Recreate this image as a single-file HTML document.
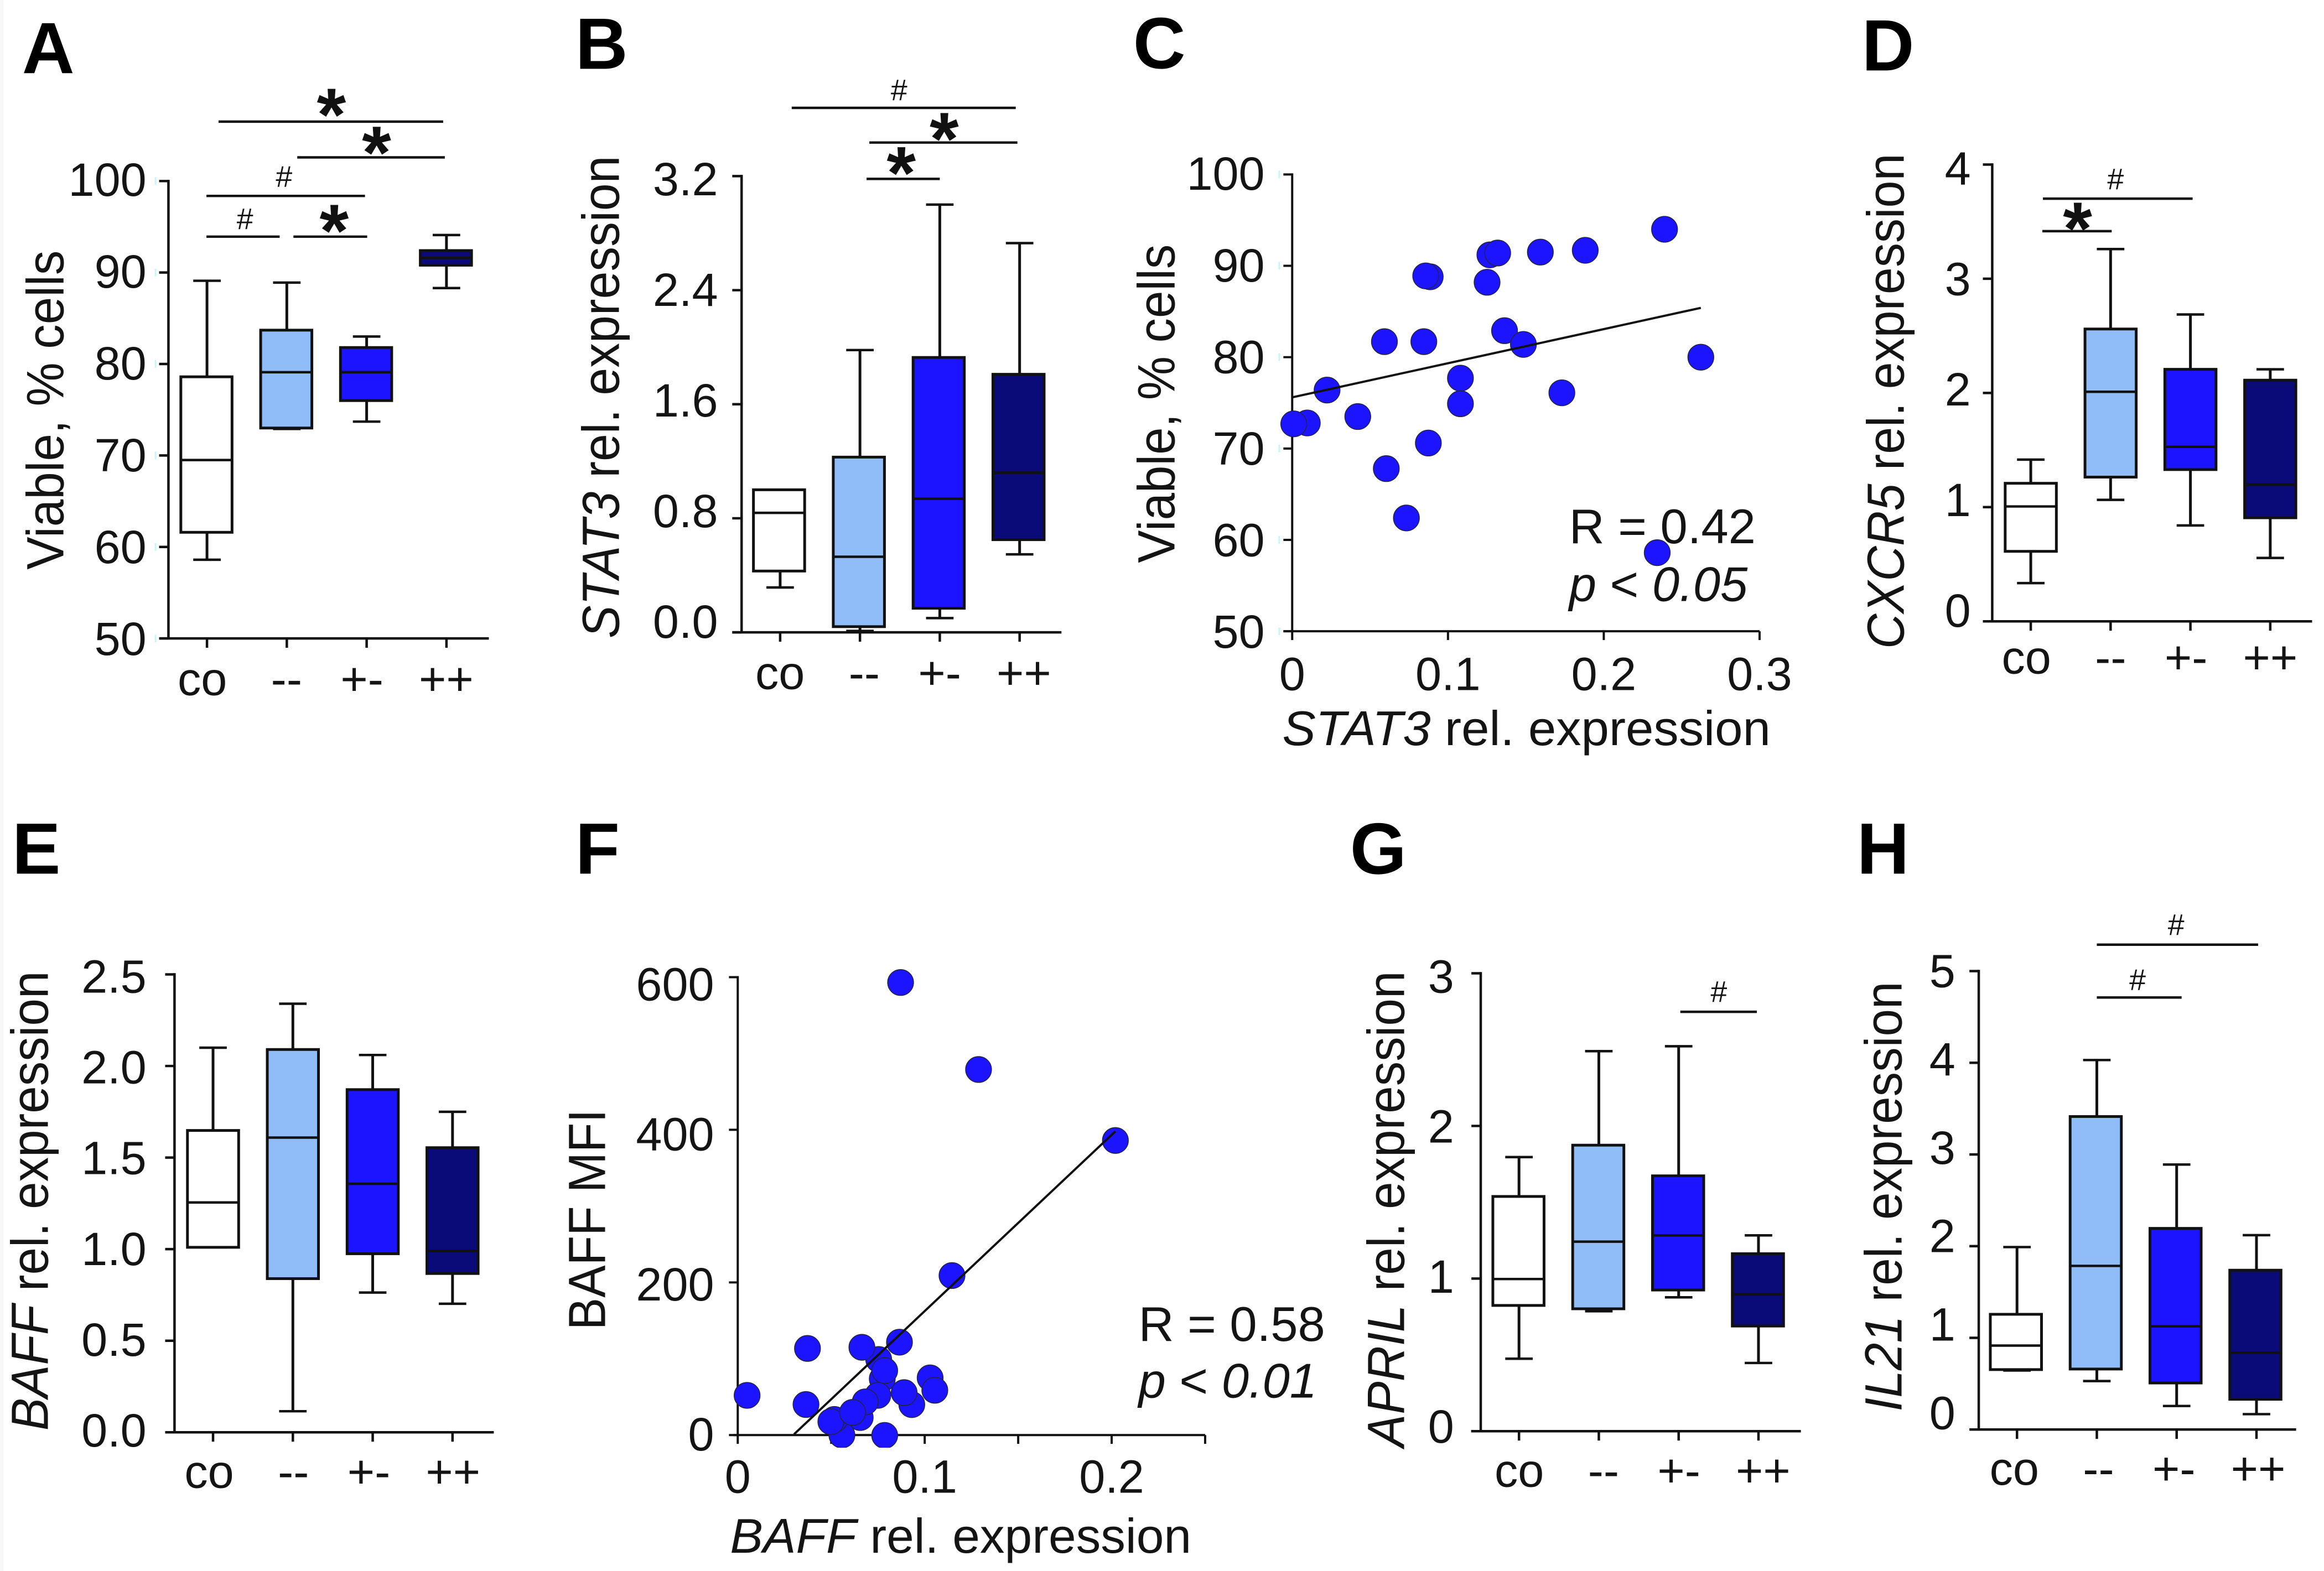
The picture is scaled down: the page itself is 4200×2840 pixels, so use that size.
<!DOCTYPE html>
<html lang="en">
<head>
<meta charset="utf-8">
<title>Viability and gene expression panels A-H</title>
<style>
html,body{margin:0;padding:0;background:#fff;}
svg{display:block;}
text{font-family:"Liberation Sans",sans-serif;fill:#141414;}
.letter{font-size:132px;font-weight:bold;fill:#000;}
.title{font-size:89px;}
.ytitle{font-size:95px;}
.tick{font-size:85px;}
.cat{font-size:85px;text-anchor:middle;}
.anno{font-size:89px;}
.star{font-size:136px;font-weight:bold;text-anchor:middle;fill:#111;}
.hash{font-size:54px;text-anchor:middle;}
.it{font-style:italic;}
.sig{stroke:#111;stroke-width:4.5;}
</style>
</head>
<body>
<svg id="figure" xmlns="http://www.w3.org/2000/svg" width="4200" height="2840" viewBox="0 0 4200 2840">
<defs>
<clipPath id="f-point-clip"><rect x="1000" y="1700" width="1400" height="923"/></clipPath>
</defs>
<rect x="0" y="0" width="4200" height="2840" fill="#fff"/>
<rect x="0" y="0" width="6" height="2840" fill="#f7f7f7"/>

<g id="panel-a" transform="matrix(0.9949 0 0 0.9949 0 0)">
<text class="letter" x="40" y="133">A</text>
<text class="title ytitle" transform="translate(115,1035) rotate(-90)" textLength="580" lengthAdjust="spacingAndGlyphs">Viable, % cells</text>
<line class="sig" x1="397" y1="221" x2="805" y2="221"/>
<text class="star" x="602" y="255">*</text>
<line class="sig" x1="540" y1="286" x2="808" y2="286"/>
<text class="star" x="684" y="324">*</text>
<line class="sig" x1="375" y1="356" x2="663" y2="356"/>
<text class="hash" x="516" y="339">#</text>
<line class="sig" x1="375" y1="430" x2="508" y2="430"/>
<text class="hash" x="445" y="416">#</text>
<line class="sig" x1="533" y1="430" x2="667" y2="430"/>
<text class="star" x="607" y="466">*</text>
</g>

<g id="panel-b" transform="matrix(0.9949 0 0 0.9949 5.1 0)">
<text class="letter" x="1040" y="125">B</text>
<text class="title ytitle" transform="translate(1119,1160) rotate(-90)" textLength="877" lengthAdjust="spacingAndGlyphs"><tspan class="it">STAT3</tspan> rel. expression</text>
<line class="sig" x1="1433" y1="196" x2="1840" y2="196"/>
<text class="hash" x="1628" y="182">#</text>
<line class="sig" x1="1574" y1="259" x2="1843" y2="259"/>
<text class="star" x="1710" y="299">*</text>
<line class="sig" x1="1569" y1="325" x2="1702" y2="325"/>
<text class="star" x="1632" y="361">*</text>
</g>

<g id="panel-c" transform="matrix(0.9949 0 0 0.9949 10.2 0)">
<text class="letter" x="2048" y="124">C</text>
<text class="title ytitle" transform="translate(2123,1023) rotate(-90)" textLength="579" lengthAdjust="spacingAndGlyphs">Viable, % cells</text>
<text class="title" x="2319" y="1354" textLength="887" lengthAdjust="spacingAndGlyphs"><tspan class="it">STAT3</tspan> rel. expression</text>
<text class="anno" x="2840" y="987">R = 0.42</text>
<text class="anno" x="2840" y="1092"><tspan class="it">p</tspan> &lt; <tspan class="it">0.05</tspan></text>
</g>

<g id="panel-d" transform="matrix(0.9949 0 0 0.9949 16.8 0)">
<text class="letter" x="3365" y="128">D</text>
<text class="title ytitle" transform="translate(3441,1179) rotate(-90)" textLength="900" lengthAdjust="spacingAndGlyphs"><tspan class="it">CXCR5</tspan> rel. expression</text>
<line class="sig" x1="3694" y1="361" x2="3966" y2="361"/>
<text class="hash" x="3826" y="344">#</text>
<line class="sig" x1="3693" y1="420" x2="3819" y2="420"/>
<text class="star" x="3757" y="462">*</text>
</g>

<g id="panel-e" transform="matrix(0.9949 0 0 0.9949 0 7.5)">
<text class="letter" x="22" y="1580">E</text>
<text class="title ytitle" transform="translate(87,2592) rotate(-90)" textLength="835" lengthAdjust="spacingAndGlyphs"><tspan class="it">BAFF</tspan> rel. expression</text>
</g>

<g id="panel-f" transform="matrix(0.9949 0 0 0.9949 5.1 7.5)">
<text class="letter" x="1040" y="1580">F</text>
<text class="title ytitle" transform="translate(1094,2409) rotate(-90)" textLength="401" lengthAdjust="spacingAndGlyphs">BAFF MFI</text>
<text class="title" x="1321" y="2814" textLength="838" lengthAdjust="spacingAndGlyphs"><tspan class="it">BAFF</tspan> rel. expression</text>
<text class="anno" x="2063" y="2429">R = 0.58</text>
<text class="anno" x="2063" y="2532"><tspan class="it">p</tspan> &lt; <tspan class="it">0.01</tspan></text>
</g>

<g id="panel-g" transform="matrix(0.9949 0 0 0.9949 12.2 7.5)">
<text class="letter" x="2440" y="1580">G</text>
<text class="title ytitle" transform="translate(2538,2622) rotate(-90)" textLength="865" lengthAdjust="spacingAndGlyphs"><tspan class="it">APRIL</tspan> rel. expression</text>
<line class="sig" x1="3040" y1="1831" x2="3179" y2="1831"/>
<text class="hash" x="3110" y="1813">#</text>
</g>

<g id="panel-h" transform="matrix(0.9949 0 0 0.9949 16.8 7.5)">
<text class="letter" x="3356" y="1580">H</text>
<text class="title ytitle" transform="translate(3437,2557) rotate(-90)" textLength="781" lengthAdjust="spacingAndGlyphs"><tspan class="it">IL21</tspan> rel. expression</text>
<line class="sig" x1="3792" y1="1709" x2="4085" y2="1709"/>
<text class="hash" x="3936" y="1691">#</text>
<line class="sig" x1="3792" y1="1805" x2="3946" y2="1805"/>
<text class="hash" x="3866" y="1791">#</text>
</g>
</svg>

<script>
// Shared categories and colours
const categories = ['co', '--', '+-', '++'];
const boxFills = ['#ffffff', '#90bcf8', '#1c14ff', '#0a0a78'];

// Panel A
const aTicks = [50, 60, 70, 80, 90, 100];
const aTickLabels = ['50', '60', '70', '80', '90', '100'];
const aLow = [58.6, 72.9, 73.7, 88.3];
const aQ1 = [61.6, 73.0, 76.0, 90.8];
const aMedian = [69.5, 79.1, 79.1, 91.6];
const aQ3 = [78.6, 83.7, 81.8, 92.4];
const aHigh = [89.1, 88.9, 83.0, 94.1];

// Panel B
const bTicks = [0, 0.8, 1.6, 2.4, 3.2];
const bTickLabels = ['0.0', '0.8', '1.6', '2.4', '3.2'];
const bLow = [0.315, 0.01, 0.10, 0.547];
const bQ1 = [0.43, 0.04, 0.169, 0.65];
const bMedian = [0.838, 0.53, 0.937, 1.12];
const bQ3 = [1.0, 1.229, 1.928, 1.81];
const bHigh = [1.0, 1.98, 3.0, 2.73];

// Panel C
const cYTicks = [50, 60, 70, 80, 90, 100];
const cYTickLabels = ['50', '60', '70', '80', '90', '100'];
const cXTicks = [0, 0.1, 0.2, 0.3];
const cXTickLabels = ['0', '0.1', '0.2', '0.3'];
const cX = [0.0097, 0.001, 0.0224, 0.0421, 0.0592, 0.0604, 0.0733, 0.0845, 0.0874, 0.0886, 0.0857, 0.108, 0.108, 0.1251, 0.1269, 0.1319, 0.1363, 0.1484, 0.1731, 0.1593, 0.1881, 0.239, 0.2623, 0.2343];
const cY = [72.8, 72.7, 76.4, 73.5, 81.7, 67.8, 62.4, 81.7, 70.6, 88.8, 88.9, 77.7, 74.9, 88.2, 91.2, 91.4, 82.9, 81.4, 76.1, 91.5, 91.7, 94.0, 80.0, 58.6];
const cFitX = [0, 0.2623];
const cFitY = [75.6, 85.4];

// Panel D
const dTicks = [0, 1, 2, 3, 4];
const dTickLabels = ['0', '1', '2', '3', '4'];
const dLow = [0.335, 1.064, 0.84, 0.555];
const dQ1 = [0.613, 1.263, 1.329, 0.907];
const dMedian = [1.006, 2.01, 1.528, 1.197];
const dQ3 = [1.209, 2.56, 2.207, 2.112];
const dHigh = [1.416, 3.26, 2.687, 2.207];

// Panel E
const eTicks = [0, 0.5, 1, 1.5, 2, 2.5];
const eTickLabels = ['0.0', '0.5', '1.0', '1.5', '2.0', '2.5'];
const eLow = [1.01, 0.115, 0.763, 0.702];
const eQ1 = [1.01, 0.839, 0.975, 0.867];
const eMedian = [1.255, 1.609, 1.357, 0.99];
const eQ3 = [1.648, 2.09, 1.871, 1.554];
const eHigh = [2.1, 2.34, 2.06, 1.75];

// Panel F
const fYTicks = [0, 200, 400, 600];
const fYTickLabels = ['0', '200', '400', '600'];
const fXTicks = [0, 0.05, 0.1, 0.15, 0.2, 0.25];
const fXTickLabels = ['0', '', '0.1', '', '0.2', ''];
const fX = [0.005, 0.0365, 0.0373, 0.0754, 0.0664, 0.0773, 0.0786, 0.0871, 0.1288, 0.202, 0.1146, 0.0865, 0.0749, 0.0655, 0.0682, 0.0557, 0.0517, 0.0498, 0.0614, 0.0786, 0.0931, 0.089, 0.1029, 0.1054];
const fY = [52, 40, 113.5, 99, 115, 73.7, 84.5, 593, 479, 386, 209, 121.7, 52, 23, 43.5, 0, 20.5, 17.6, 29.7, -0.5, 39.9, 55.6, 74.9, 58.7];
const fFitX = [0.0301, 0.202];
const fFitY = [1, 398];

// Panel G
const gTicks = [0, 1, 2, 3];
const gTickLabels = ['0', '1', '2', '3'];
const gLow = [0.475, 0.786, 0.877, 0.447];
const gQ1 = [0.824, 0.802, 0.925, 0.689];
const gMedian = [0.997, 1.242, 1.283, 0.896];
const gQ3 = [1.538, 1.874, 1.673, 1.163];
const gHigh = [1.796, 2.49, 2.522, 1.283];

// Panel H
const hTicks = [0, 1, 2, 3, 4, 5];
const hTickLabels = ['0', '1', '2', '3', '4', '5'];
const hLow = [0.644, 0.529, 0.257, 0.168];
const hQ1 = [0.654, 0.66, 0.508, 0.33];
const hMedian = [0.916, 1.785, 1.126, 0.838];
const hQ3 = [1.257, 3.414, 2.194, 1.738];
const hHigh = [1.99, 4.03, 2.89, 2.12];

const SVG_NS = 'http://www.w3.org/2000/svg';

function shape(parent, tag, attrs) {
  const el = document.createElementNS(SVG_NS, tag);
  for (const k in attrs) el.setAttribute(k, attrs[k]);
  parent.appendChild(el);
  return el;
}
function linear(d0, d1, r0, r1) {
  return function (v) { return r0 + (v - d0) * (r1 - r0) / (d1 - d0); };
}
function drawLine(parent, x1, y1, x2, y2, width, name) {
  const el = shape(parent, 'line', { x1: x1, y1: y1, x2: x2, y2: y2, stroke: '#111', 'stroke-width': width });
  
  
  return el;
}
function drawLabel(parent, str, x, y, cls, anchor, name) {
  const el = shape(parent, 'text', { x: x, y: y, class: cls, 'text-anchor': anchor });
  el.textContent = str;
  
  
  return el;
}
function drawYAxis(parent, key, ticks, labels, c, width) {
  const y = linear(c.vMin, c.vMax, c.yBottom, c.yTop);
  const labelY = linear(c.vMin, c.vMax, c.labelBottom, c.labelTop);
  drawLine(parent, c.axisX, y(c.vMax) - width / 2, c.axisX, y(c.vMin), width, key + '-y-axis-line');
  ticks.forEach(function (t, i) {
    drawLine(parent, c.axisX - c.tickLen, y(t), c.axisX, y(t), width, key + '-y-tick-' + labels[i]);
    drawLabel(parent, labels[i], c.labelRight, labelY(t) + 30, 'tick', 'end', key + '-y-tick-label-' + labels[i]);
    if (c.cyanTicks) {
      const mark = shape(parent, 'rect', { x: c.axisX - 25, y: y(t) - 7, width: 3, height: 14, fill: '#c8f4fa' });
      
      
    }
  });
  return y;
}

function drawBoxPanel(key, low, q1, median, q3, high, ticks, labels, c) {
  const g = document.getElementById('panel-' + key);
  c.tickLen = 17;
  const y = drawYAxis(g, key, ticks, labels, c, 4.5);
  drawLine(g, c.axisStart, c.yBottom, c.axisEnd, c.yBottom, 4.5, key + '-x-axis-line');
  const tickX = linear(0, 1, c.tick0, c.tick0 + c.step);
  const boxX = linear(0, 1, c.box0, c.box0 + c.step);
  categories.forEach(function (cat, i) {
    const tx = tickX(i);
    const bx = boxX(i);
    drawLine(g, tx, c.yBottom, tx, c.yBottom + 17, 4.5, key + '-x-tick-' + i);
    drawLabel(g, cat, tx + c.labelShift + (i % 2 ? 4 : -4), c.catBaseline, 'cat', 'middle', key + '-category-label-' + i);
    drawLine(g, tx, y(high[i]), tx, y(low[i]), 5, key + '-whisker-' + i);
    drawLine(g, tx - 25, y(high[i]), tx + 25, y(high[i]), 4.5, key + '-whisker-cap-high-' + i);
    drawLine(g, tx - 25, y(low[i]), tx + 25, y(low[i]), 4.5, key + '-whisker-cap-low-' + i);
    const box = shape(g, 'rect', {
      x: bx - 46.5, y: y(q3[i]), width: 93, height: y(q1[i]) - y(q3[i]),
      fill: boxFills[i], stroke: '#111', 'stroke-width': 5
    });
    
    
    drawLine(g, bx - 46.5, y(median[i]), bx + 46.5, y(median[i]), 4.5, key + '-median-' + i);
  });
}

function drawScatterPanel(key, xs, ys, fitX, fitY, xTicks, xLabels, yTicks, yLabels, c) {
  const g = document.getElementById('panel-' + key);
  c.tickLen = 16;
  const y = drawYAxis(g, key, yTicks, yLabels, c, 4);
  const x = linear(c.xMin, c.xMax, c.axisX, c.xRight);
  drawLine(g, c.axisStart, c.yBottom, c.xRight, c.yBottom, 4, key + '-x-axis-line');
  xTicks.forEach(function (t, i) {
    drawLine(g, x(t), c.yBottom, x(t), c.yBottom + 16, 4, key + '-x-tick-' + i);
    if (xLabels[i]) {
      drawLabel(g, xLabels[i], x(t), c.xLabelBaseline, 'tick', 'middle', key + '-x-tick-label-' + i);
    }
  });
  const pts = shape(g, 'g', {});
  
  
  if (c.clip) pts.setAttribute('clip-path', c.clip);
  xs.forEach(function (xv, i) {
    const dot = shape(pts, 'circle', {
      cx: x(xv), cy: y(ys[i]), r: c.r, fill: '#1c14ff', stroke: '#23233a', 'stroke-width': 1.5
    });
    
    
  });
  drawLine(g, x(fitX[0]), y(fitY[0]), x(fitX[1]), y(fitY[1]), 4, key + '-fit-line');
}

drawBoxPanel('a', aLow, aQ1, aMedian, aQ3, aHigh, aTicks, aTickLabels, {
  vMin: 50, vMax: 100, yTop: 329, yBottom: 1160, labelTop: 326, labelBottom: 1160, labelRight: 266,
  axisX: 306, axisStart: 290, axisEnd: 888, tick0: 376, box0: 375, step: 145, labelShift: -4.5, catBaseline: 1263, cyanTicks: true
});
drawBoxPanel('b', bLow, bQ1, bMedian, bQ3, bHigh, bTicks, bTickLabels, {
  vMin: 0, vMax: 3.2, yTop: 320, yBottom: 1149, labelTop: 325, labelBottom: 1129, labelRight: 1299,
  axisX: 1342, axisStart: 1325, axisEnd: 1923, tick0: 1412, box0: 1410, step: 145, labelShift: 3.75, catBaseline: 1252
});
drawScatterPanel('c', cX, cY, cFitX, cFitY, cXTicks, cXTickLabels, cYTicks, cYTickLabels, {
  vMin: 50, vMax: 100, yTop: 317, yBottom: 1147, labelTop: 315, labelBottom: 1147, labelRight: 2287,
  axisX: 2337, axisStart: 2321, xMin: 0, xMax: 0.3, xRight: 3186, xLabelBaseline: 1254, r: 23.5, cyanTicks: true
});
drawBoxPanel('d', dLow, dQ1, dMedian, dQ3, dHigh, dTicks, dTickLabels, {
  vMin: 0, vMax: 4, yTop: 299, yBottom: 1129, labelTop: 305, labelBottom: 1109, labelRight: 3563,
  axisX: 3602, axisStart: 3586, axisEnd: 4183, tick0: 3672, box0: 3672, step: 145, labelShift: -4, catBaseline: 1224
});
drawBoxPanel('e', eLow, eQ1, eMedian, eQ3, eHigh, eTicks, eTickLabels, {
  vMin: 0, vMax: 2.5, yTop: 1763, yBottom: 2595, labelTop: 1766, labelBottom: 2591, labelRight: 266,
  axisX: 317, axisStart: 301, axisEnd: 897, tick0: 387, box0: 387, step: 145, labelShift: -3, catBaseline: 2696
});
drawScatterPanel('f', fX, fY, fFitX, fFitY, fXTicks, fXTickLabels, fYTicks, fYTickLabels, {
  vMin: 0, vMax: 600, yTop: 1768, yBottom: 2600, labelTop: 1780, labelBottom: 2598, labelRight: 1292,
  axisX: 1335, axisStart: 1327, xMin: 0, xMax: 0.25, xRight: 2184, xLabelBaseline: 2705, r: 23.5, clip: 'url(#f-point-clip)'
});
drawBoxPanel('g', gLow, gQ1, gMedian, gQ3, gHigh, gTicks, gTickLabels, {
  vMin: 0, vMax: 3, yTop: 1761, yBottom: 2593, labelTop: 1766, labelBottom: 2584, labelRight: 2629,
  axisX: 2677.5, axisStart: 2660, axisEnd: 3259, tick0: 2747, box0: 2746, step: 145, labelShift: 4.5, catBaseline: 2694
});
drawBoxPanel('h', hLow, hQ1, hMedian, hQ3, hHigh, hTicks, hTickLabels, {
  vMin: 0, vMax: 5, yTop: 1757, yBottom: 2590, labelTop: 1756, labelBottom: 2559, labelRight: 3535,
  axisX: 3577.5, axisStart: 3562, axisEnd: 4154, tick0: 3647, box0: 3645, step: 145, labelShift: -1, catBaseline: 2690
});
</script>
</body>
</html>
